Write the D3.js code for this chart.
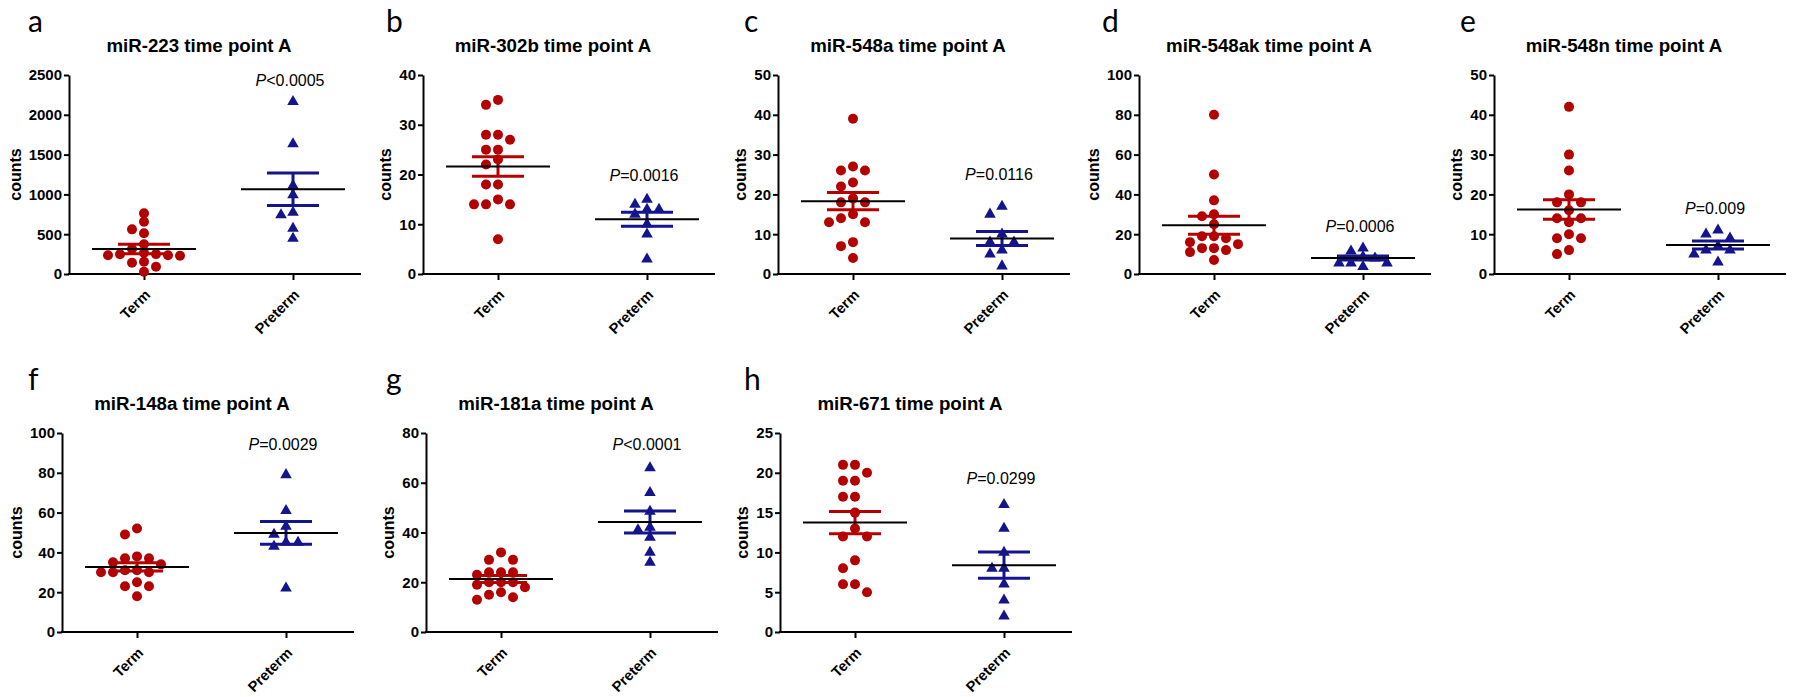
<!DOCTYPE html>
<html>
<head>
<meta charset="utf-8">
<script src="https://cdn.jsdelivr.net/npm/d3@7"></script>
<style>
body { margin: 0; background: #fff; }
svg { display: block; }
</style>
</head>
<body>
<div class="wrapper"></div>
<script>
const WIDTH = 1802
const HEIGHT = 697
const PLOT_H = 199
const FONT = "'Liberation Sans', Arial, sans-serif"

// values
var panelIds = ['a', 'b', 'c', 'd', 'e', 'f', 'g', 'h']
var mirNames = ['miR-223', 'miR-302b', 'miR-548a', 'miR-548ak', 'miR-548n', 'miR-148a', 'miR-181a', 'miR-671']
var groups = ['Term', 'Preterm']
var yMax = [2500, 40, 50, 100, 50, 100, 80, 25]
var yStep = [500, 10, 10, 20, 10, 20, 20, 5]

var termCounts = [
	[762, 657, 561, 511, 373, 314, 268, 247, 235, 230, 235, 250, 155, 142, 92, 29],
	[35, 34, 28, 27, 28, 25, 25, 23, 22, 18, 18, 15, 14, 14, 14, 7],
	[39, 27, 26, 26, 23, 22, 19, 18, 18, 15, 14, 13, 13, 8, 7, 4],
	[80, 50, 37, 30, 29, 25, 19, 19, 18, 16, 15, 13, 13, 12, 11, 7],
	[42, 30, 26, 20, 18, 18, 16, 14, 14, 13, 10, 9, 9, 6, 5],
	[52, 49, 38, 37, 37, 35, 34, 31, 30, 30, 30, 31, 25, 23, 23, 18],
	[32, 29, 29, 24, 23, 24, 24, 20, 19, 18, 20, 20, 15, 16, 13, 14],
	[21, 21, 20, 19, 19, 17, 17, 15, 13, 12, 12, 9, 8, 6, 6, 5]
]
var pretermCounts = [
	[2165, 1633, 1110, 993, 775, 741, 574, 448],
	[15, 14, 13, 13, 12, 10, 8, 3],
	[17, 15, 10, 8, 8, 6, 5, 2],
	[13, 11.5, 8.7, 8, 5.5, 5.5, 5.5, 3.7],
	[11, 10, 9, 7, 6, 6, 5, 3],
	[79, 61, 53, 49, 45, 45, 43, 22],
	[66, 56, 48.5, 42, 41, 38, 32, 28],
	[16, 13, 10, 8, 8, 6, 4, 2]
]

// mean +/- SEM as drawn
var termMean = [314, 21.6, 18.3, 24.5, 16.2, 32.7, 21.3, 13.75]
var termSem = [59, 1.95, 2.15, 4.5, 2.45, 2.1, 1.4, 1.4]
var pretermMean = [1064, 11.0, 8.9, 8.0, 7.3, 49.8, 44.2, 8.4]
var pretermSem = [205, 1.4, 1.75, 1.0, 1.0, 5.7, 4.45, 1.65]

var pRel = ['<0.0005', '=0.0016', '=0.0116', '=0.0006', '=0.009', '=0.0029', '<0.0001', '=0.0299']
var pLabelY = [2362, 18.7, 23.6, 20.9, 15.2, 91.6, 73.3, 18.6]

// layout
var rowTop = [75, 433]
var axisX = [69, 423, 778, 1139, 1494, 62, 426, 780]
var colors = { 'Term': '#b30000', 'Preterm': '#14148c' }
var STEP = 12
var MIN_GAP = 8

var svg = d3.select(".wrapper")
	.append("svg")
	.attr("width", WIDTH)
	.attr("height", HEIGHT)
	.style("font-family", FONT)

svg.append("rect").attr("width", WIDTH).attr("height", HEIGHT).attr("fill", "#fff")

// spread points with similar values side by side (prism style scatter)
function dodge(values, y) {
	var offs = [0, -1, 1, -2, 2, -3, 3, -4, 4]
	var placed = []
	var out = []
	var order = values.map((v, i) => i).sort((a, b) => values[b] - values[a])
	order.forEach(function(i) {
		var py = y(values[i])
		for (var k of offs) {
			var hit = placed.some(p => p.k === k && Math.abs(p.y - py) < MIN_GAP)
			if (!hit) {
				placed.push({k: k, y: py})
				out.push({k: k, v: values[i]})
				break
			}
		}
	})
	return out
}

panelIds.forEach(function(id, i) {
	var row = i < 5 ? 0 : 1
	var col = i < 5 ? i : i - 5
	var x0 = axisX[i]
	var top = rowTop[row]
	var bottom = top + PLOT_H

	var g = svg.append("g").attr("class", "panel-" + id)

	var y = d3.scaleLinear([0, yMax[i]], [bottom, top])
	var x = d3.scalePoint(groups, [x0 + 75, x0 + 224])

	// y axis
	var yAxis = g.append("g")
		.attr("transform", `translate(${x0},0)`)
		.call(d3.axisLeft(y)
			.tickValues(d3.range(0, yMax[i] + yStep[i] / 2, yStep[i]))
			.tickSize(5)
			.tickSizeOuter(0)
			.tickPadding(2)
			.tickFormat(d3.format("d")))
		.attr("font-family", FONT)
	yAxis.select(".domain").attr("stroke-width", 2)
	yAxis.selectAll(".tick line").attr("stroke-width", 2)
	yAxis.selectAll(".tick text")
		.style("font-size", "15px")
		.style("font-weight", "bold")
		.attr("fill", "#000")

	// x axis
	var xAxis = g.append("g")
		.attr("transform", `translate(0,${bottom})`)
		.call(d3.axisBottom(x).tickSize(6).tickSizeOuter(0))
		.attr("font-family", FONT)
	xAxis.select(".domain").remove()
	xAxis.selectAll(".tick line").attr("stroke-width", 2)
	xAxis.selectAll(".tick text")
		.attr("x", 0)
		.attr("y", 0)
		.attr("dy", "0.35em")
		.attr("text-anchor", "end")
		.attr("transform", "translate(3,18) rotate(-45)")
		.style("font-size", "14.7px")
		.style("font-weight", "bold")
		.attr("fill", "#000")

	g.append("line")
		.attr("x1", x0 - 1)
		.attr("x2", x0 + 292)
		.attr("y1", bottom)
		.attr("y2", bottom)
		.attr("stroke", "#000")
		.attr("stroke-width", 2)

	// y label
	var bb = yAxis.node().getBBox()
	g.append("text")
		.attr("transform", `translate(${x0 + bb.x - 8},${(top + bottom) / 2}) rotate(-90)`)
		.attr("text-anchor", "middle")
		.style("font-size", "16px")
		.style("font-weight", "bold")
		.attr("fill", "#000")
		.text("counts")

	// title and panel letter
	g.append("text")
		.attr("x", x0 + 130)
		.attr("y", top - 23)
		.attr("text-anchor", "middle")
		.style("font-size", "18.7px")
		.style("font-weight", "bold")
		.attr("fill", "#000")
		.text(mirNames[i] + " time point A")

	g.append("text")
		.attr("x", col * 358 + 28)
		.attr("y", top - 43)
		.style("font-family", "Lato, 'Open Sans', sans-serif")
		.style("font-size", "30px")
		.attr("fill", "#000")
		.text(id)

	// points
	var sets = [termCounts[i], pretermCounts[i]]
	groups.forEach(function(grp, gi) {
		var pts = dodge(sets[gi], y)
		var cx = x(grp)
		if (grp === 'Term') {
			g.append("g").selectAll("circle")
				.data(pts)
				.join("circle")
				.attr("cx", d => cx + d.k * STEP)
				.attr("cy", d => y(d.v))
				.attr("r", 5)
				.attr("fill", colors[grp])
		} else {
			g.append("g").selectAll("path")
				.data(pts)
				.join("path")
				.attr("d", d3.symbol(d3.symbolTriangle, 58))
				.attr("transform", d => `translate(${cx + d.k * STEP},${y(d.v)})`)
				.attr("fill", colors[grp])
		}
	})

	// mean +/- SEM
	var means = [termMean[i], pretermMean[i]]
	var sems = [termSem[i], pretermSem[i]]
	groups.forEach(function(grp, gi) {
		var cx = x(grp)
		var m = means[gi], s = sems[gi]
		var eb = g.append("g")
			.attr("stroke", colors[grp])
			.attr("stroke-width", 3)
		eb.append("line")
			.attr("x1", cx).attr("x2", cx)
			.attr("y1", y(m + s)).attr("y2", y(m - s))
		;[m + s, m - s].forEach(function(v) {
			eb.append("line")
				.attr("x1", cx - 26).attr("x2", cx + 26)
				.attr("y1", y(v)).attr("y2", y(v))
		})
		g.append("line")
			.attr("x1", cx - 52).attr("x2", cx + 52)
			.attr("y1", y(m)).attr("y2", y(m))
			.attr("stroke", "#000")
			.attr("stroke-width", 2)
	})

	// p value
	var pt = g.append("text")
		.attr("x", x("Preterm") - 3)
		.attr("y", y(pLabelY[i]))
		.attr("text-anchor", "middle")
		.style("font-size", "16px")
		.attr("fill", "#000")
	pt.append("tspan").style("font-style", "italic").text("P")
	pt.append("tspan").text(pRel[i])
})
</script>
</body>
</html>
